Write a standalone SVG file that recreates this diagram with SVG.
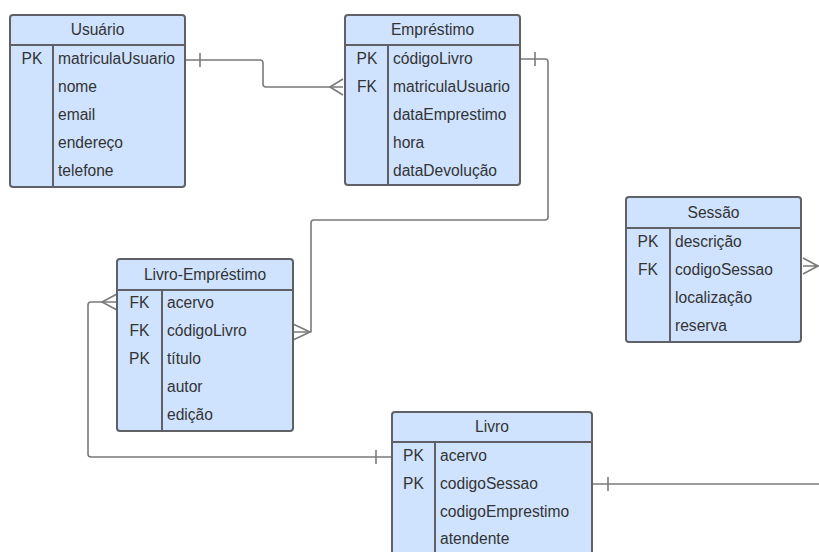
<svg xmlns="http://www.w3.org/2000/svg" width="819" height="552" viewBox="0 0 819 552">
<style>
.box{fill:#cfe3ff;stroke:#5f6166;stroke-width:2}
.ln{stroke:#5f6166;stroke-width:2;fill:none}
.t{font-family:"Liberation Sans",Arial,sans-serif;font-size:15.6px;fill:#333333}
.c{text-anchor:middle}
.cn{stroke:#7a7a7a;stroke-width:1.6;fill:none;stroke-linejoin:round}
</style>
<rect width="819" height="552" fill="#ffffff"/>
<g id="connectors">
  <path class="cn" d="M185 60 H260 Q263 60 263 63 V84 Q263 87 266 87 H343"/>
  <path class="cn" d="M200 53 V67"/>
  <path class="cn" d="M343 79 L330 87 L343 95"/>
  <path class="cn" d="M520 59 H545 Q548 59 548 62 V217 Q548 220 545 220 H314 Q311 220 311 223 V332 H293"/>
  <path class="cn" d="M535 52 V66"/>
  <path class="cn" d="M293 324 L310 332 L293 340"/>
  <path class="cn" d="M392 457 H91 Q88 457 88 454 V305 Q88 302 91 302 H117"/>
  <path class="cn" d="M376 450 V464"/>
  <path class="cn" d="M117 294 L102 302 L117 310"/>
  <path class="cn" d="M592 484 H819"/>
  <path class="cn" d="M608 477 V491"/>
  <path class="cn" d="M803 258 L818 266 L803 274 M803 266 H819"/>
</g>
<g id="usuario">
  <rect class="box" x="10" y="15" width="175" height="172" rx="3"/>
  <path class="ln" d="M10 45 H185 M53 45 V187"/>
  <text class="t c" x="97.5" y="35">Usuário</text>
  <text class="t c" x="32" y="64">PK</text>
  <text class="t" x="58" y="64">matriculaUsuario</text>
  <text class="t" x="58" y="92">nome</text>
  <text class="t" x="58" y="120">email</text>
  <text class="t" x="58" y="148">endereço</text>
  <text class="t" x="58" y="176">telefone</text>
</g>
<g id="emprestimo">
  <rect class="box" x="345" y="15" width="175" height="170" rx="3"/>
  <path class="ln" d="M345 45 H520 M388 45 V185"/>
  <text class="t c" x="432.5" y="35">Empréstimo</text>
  <text class="t c" x="367" y="64">PK</text>
  <text class="t c" x="367" y="92">FK</text>
  <text class="t" x="393" y="64">códigoLivro</text>
  <text class="t" x="393" y="92">matriculaUsuario</text>
  <text class="t" x="393" y="120">dataEmprestimo</text>
  <text class="t" x="393" y="148">hora</text>
  <text class="t" x="393" y="176">dataDevolução</text>
</g>
<g id="livro-emprestimo">
  <rect class="box" x="117" y="259" width="176" height="172" rx="3"/>
  <path class="ln" d="M117 290 H293 M162 290 V431"/>
  <text class="t c" x="205" y="280">Livro-Empréstimo</text>
  <text class="t c" x="139.5" y="308">FK</text>
  <text class="t c" x="139.5" y="336">FK</text>
  <text class="t c" x="139.5" y="364">PK</text>
  <text class="t" x="167" y="308">acervo</text>
  <text class="t" x="167" y="336">códigoLivro</text>
  <text class="t" x="167" y="364">título</text>
  <text class="t" x="167" y="392">autor</text>
  <text class="t" x="167" y="420">edição</text>
</g>
<g id="sessao">
  <rect class="box" x="626" y="197" width="175" height="145" rx="3"/>
  <path class="ln" d="M626 228 H801 M670 228 V342"/>
  <text class="t c" x="713.5" y="218">Sessão</text>
  <text class="t c" x="648" y="247">PK</text>
  <text class="t c" x="648" y="275">FK</text>
  <text class="t" x="675" y="247">descrição</text>
  <text class="t" x="675" y="275">codigoSessao</text>
  <text class="t" x="675" y="303">localização</text>
  <text class="t" x="675" y="331">reserva</text>
</g>
<g id="livro">
  <rect class="box" x="392" y="412" width="200" height="150" rx="3"/>
  <path class="ln" d="M392 442 H592 M435 442 V562"/>
  <text class="t c" x="492" y="432">Livro</text>
  <text class="t c" x="413.5" y="461">PK</text>
  <text class="t c" x="413.5" y="489">PK</text>
  <text class="t" x="440" y="461">acervo</text>
  <text class="t" x="440" y="489">codigoSessao</text>
  <text class="t" x="440" y="517">codigoEmprestimo</text>
  <text class="t" x="440" y="544">atendente</text>
</g>
</svg>
